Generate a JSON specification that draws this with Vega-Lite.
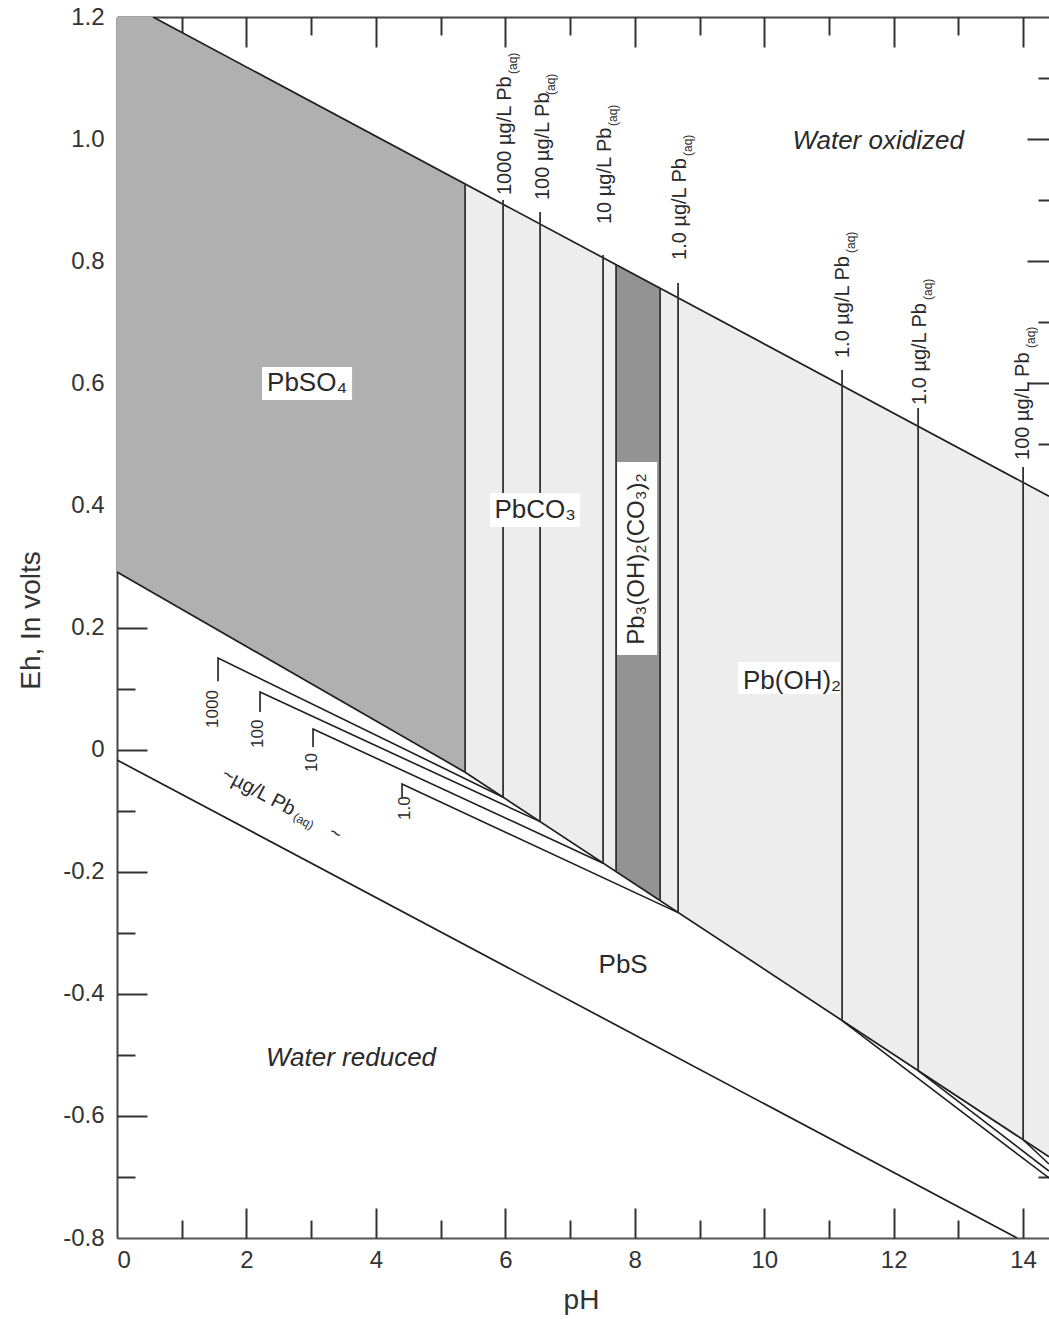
{
  "$schema": "https://vega.github.io/schema/vega-lite/v6.json",
  "width": 932,
  "height": 1221,
  "autosize": {"type": "none"},
  "padding": {"left": 117, "top": 17, "right": 0, "bottom": 81},
  "background": "white",
  "config": {"view": {"stroke": null}},
  "datasets": {
    "so4": [
      {"ph": 0, "top": 1.2, "bottom": 0.291},
      {"ph": 0.556, "top": 1.2, "bottom": 0.2571},
      {"ph": 5.378, "top": 0.9266, "bottom": -0.037}
    ],
    "light": [
      {"ph": 5.378, "top": 0.9266, "bottom": -0.037},
      {"ph": 14.4, "top": 0.415, "bottom": -0.667}
    ],
    "dark": [
      {"ph": 7.711, "top": 0.7943, "bottom": -0.2},
      {"ph": 8.391, "top": 0.7557, "bottom": -0.247}
    ],
    "bounds": [
      {"id": "ox", "seq": 1, "ph": 0.556, "eh": 1.2},
      {"id": "ox", "seq": 2, "ph": 14.4, "eh": 0.415},
      {"id": "red", "seq": 1, "ph": 0, "eh": -0.017},
      {"id": "red", "seq": 2, "ph": 13.907, "eh": -0.8},
      {"id": "so4", "seq": 1, "ph": 0, "eh": 0.291},
      {"id": "so4", "seq": 2, "ph": 5.378, "eh": -0.037},
      {"id": "pbs", "seq": 1, "ph": 5.378, "eh": -0.037},
      {"id": "pbs", "seq": 2, "ph": 14.4, "eh": -0.667}
    ],
    "verticals": [
      {"ph": 5.378, "top": 0.9266, "bottom": -0.037},
      {"ph": 5.965, "top": 0.9002, "bottom": -0.078},
      {"ph": 6.537, "top": 0.8806, "bottom": -0.118},
      {"ph": 7.51, "top": 0.8102, "bottom": -0.186},
      {"ph": 7.711, "top": 0.7943, "bottom": -0.2},
      {"ph": 8.391, "top": 0.7557, "bottom": -0.247},
      {"ph": 8.669, "top": 0.7643, "bottom": -0.267},
      {"ph": 11.203, "top": 0.6218, "bottom": -0.444},
      {"ph": 12.378, "top": 0.5595, "bottom": -0.526},
      {"ph": 14.0, "top": 0.463, "bottom": -0.639}
    ],
    "conc": [
      {"id": "c1000", "seq": 1, "ph": 1.561, "eh": 0.112},
      {"id": "c1000", "seq": 2, "ph": 1.561, "eh": 0.15},
      {"id": "c1000", "seq": 3, "ph": 5.965, "eh": -0.078},
      {"id": "c100", "seq": 1, "ph": 2.21, "eh": 0.0616},
      {"id": "c100", "seq": 2, "ph": 2.21, "eh": 0.0943},
      {"id": "c100", "seq": 3, "ph": 6.537, "eh": -0.118},
      {"id": "c10", "seq": 1, "ph": 3.029, "eh": 0.0043},
      {"id": "c10", "seq": 2, "ph": 3.029, "eh": 0.0337},
      {"id": "c10", "seq": 3, "ph": 7.51, "eh": -0.186},
      {"id": "c1", "seq": 1, "ph": 4.404, "eh": -0.0776},
      {"id": "c1", "seq": 2, "ph": 4.404, "eh": -0.0563},
      {"id": "c1", "seq": 3, "ph": 8.669, "eh": -0.267},
      {"id": "r1", "seq": 1, "ph": 11.203, "eh": -0.444},
      {"id": "r1", "seq": 2, "ph": 14.4, "eh": -0.7017},
      {"id": "r2", "seq": 1, "ph": 12.378, "eh": -0.526},
      {"id": "r2", "seq": 2, "ph": 14.4, "eh": -0.6903},
      {"id": "r3", "seq": 1, "ph": 14.0, "eh": -0.639},
      {"id": "r3", "seq": 2, "ph": 14.4, "eh": -0.6788}
    ],
    "boxes": [
      {"x1": 2.241, "x2": 3.632, "y1": 0.6267, "y2": 0.5727},
      {"x1": 5.764, "x2": 7.155, "y1": 0.4203, "y2": 0.3646},
      {"x1": 7.727, "x2": 8.345, "y1": 0.4711, "y2": 0.155},
      {"x1": 9.597, "x2": 11.17, "y1": 0.1435, "y2": 0.0909}
    ],
    "names": [
      {"ph": 2.936, "eh": 0.6005, "t": "PbSO₄"},
      {"ph": 6.46, "eh": 0.3925, "t": "PbCO₃"},
      {"ph": 10.43, "eh": 0.1124, "t": "Pb(OH)₂"},
      {"ph": 7.82, "eh": -0.3528, "t": "PbS"}
    ],
    "water": [
      {"ph": 11.76, "eh": 0.997, "t": "Water oxidized"},
      {"ph": 3.616, "eh": -0.5052, "t": "Water reduced"}
    ],
    "rotname": [
      {"ph": 8.036, "eh": 0.3122, "t": "Pb₃(OH)₂(CO₃)₂"}
    ],
    "conclabels": [
      {"ph": 5.996, "eh": 0.9084, "t": "1000 µg/L Pb"},
      {"ph": 6.583, "eh": 0.9002, "t": "100 µg/L Pb"},
      {"ph": 7.541, "eh": 0.8609, "t": "10 µg/L Pb"},
      {"ph": 8.7, "eh": 0.802, "t": "1.0 µg/L Pb"},
      {"ph": 11.219, "eh": 0.6414, "t": "1.0 µg/L Pb"},
      {"ph": 12.409, "eh": 0.5645, "t": "1.0 µg/L Pb"},
      {"ph": 14.0, "eh": 0.4744, "t": "100 µg/L Pb"}
    ],
    "aq": [
      {"ph": 6.12, "eh": 1.1066, "t": "(aq)"},
      {"ph": 6.707, "eh": 1.0722, "t": "(aq)"},
      {"ph": 7.665, "eh": 1.0215, "t": "(aq)"},
      {"ph": 8.824, "eh": 0.9723, "t": "(aq)"},
      {"ph": 11.343, "eh": 0.8134, "t": "(aq)"},
      {"ph": 12.533, "eh": 0.7364, "t": "(aq)"},
      {"ph": 14.124, "eh": 0.6578, "t": "(aq)"}
    ],
    "hooklabels": [
      {"ph": 1.484, "eh": 0.0354, "t": "1000"},
      {"ph": 2.179, "eh": 0.0026, "t": "100"},
      {"ph": 3.013, "eh": -0.0367, "t": "10"},
      {"ph": 4.45, "eh": -0.1153, "t": "1.0"}
    ],
    "slant": [
      {"ph": 1.638, "eh": -0.0383, "t": "~µg/L Pb"},
      {"ph": 3.291, "eh": -0.1333, "t": "~"}
    ],
    "slantsub": [
      {"ph": 2.735, "eh": -0.1088, "t": "(aq)"}
    ]
  },
  "resolve": {"axis": {"x": "independent", "y": "independent"}},
  "layer": [
    {
      "data": {"name": "so4"},
      "mark": {"type": "area", "color": "#b0b0b0", "clip": true},
      "encoding": {
        "x": {"field": "ph", "type": "quantitative", "scale": {"domain": [0, 14.4], "nice": false, "zero": false},
          "axis": {"orient": "bottom", "values": [0, 2, 4, 6, 8, 10, 12, 14], "ticks": false, "domain": true, "domainColor": "#555", "domainWidth": 2, "grid": false,
            "labelFont": "Liberation Sans", "labelFontSize": 24, "labelColor": "#333", "labelPadding": 10,
            "title": "pH", "titleFont": "Liberation Sans", "titleFontSize": 28, "titleFontWeight": "normal", "titleColor": "#333",
            "titleX": 464, "titleY": 62, "titleBaseline": "middle", "titleAlign": "center"}},
        "y": {"field": "top", "type": "quantitative", "scale": {"domain": [-0.8, 1.2], "nice": false, "zero": false},
          "axis": {"orient": "left", "values": [-0.8, -0.6, -0.4, -0.2, 0, 0.2, 0.4, 0.6, 0.8, 1.0, 1.2], "ticks": false, "domain": true, "domainColor": "#444", "domainWidth": 2, "grid": false,
            "labelExpr": "datum.value == 0 ? '0' : replace(format(datum.value, '.1f'), '−', '-')",
            "labelFont": "Liberation Sans", "labelFontSize": 24, "labelColor": "#333", "labelPadding": 13,
            "title": "Eh, In volts", "titleFont": "Liberation Sans", "titleFontSize": 28, "titleFontWeight": "normal", "titleColor": "#333",
            "titleX": -86, "titleY": 603, "titleAngle": 270, "titleBaseline": "middle", "titleAlign": "center"}},
        "y2": {"field": "bottom"}
      }
    },
    {
      "data": {"name": "light"},
      "mark": {"type": "area", "color": "#ededed", "clip": true},
      "encoding": {
        "x": {"field": "ph", "type": "quantitative", "scale": {"domain": [0, 14.4], "nice": false, "zero": false},
          "axis": {"orient": "bottom", "values": [2, 4, 6, 8, 10, 12, 14], "labels": false, "domain": false, "grid": false, "ticks": true, "tickSize": 30, "offset": -30, "tickColor": "#333", "tickWidth": 2, "title": null}},
        "y": {"field": "top", "type": "quantitative", "scale": {"domain": [-0.8, 1.2], "nice": false, "zero": false},
          "axis": {"orient": "left", "values": [-0.6, -0.4, -0.2, 0, 0.2, 0.4, 0.6, 0.8, 1.0], "labels": false, "domain": false, "grid": false, "ticks": true, "tickSize": 30, "offset": -30, "tickColor": "#333", "tickWidth": 2, "title": null}},
        "y2": {"field": "bottom"}
      }
    },
    {
      "data": {"name": "dark"},
      "mark": {"type": "area", "color": "#939393", "clip": true},
      "encoding": {
        "x": {"field": "ph", "type": "quantitative", "scale": {"domain": [0, 14.4], "nice": false, "zero": false},
          "axis": {"orient": "bottom", "values": [1, 3, 5, 7, 9, 11, 13], "labels": false, "domain": false, "grid": false, "ticks": true, "tickSize": 18, "offset": -18, "tickColor": "#333", "tickWidth": 2, "title": null}},
        "y": {"field": "top", "type": "quantitative", "scale": {"domain": [-0.8, 1.2], "nice": false, "zero": false},
          "axis": {"orient": "left", "values": [-0.7, -0.5, -0.3, -0.1, 0.1, 0.3, 0.5, 0.7, 0.9, 1.1], "labels": false, "domain": false, "grid": false, "ticks": true, "tickSize": 18, "offset": -18, "tickColor": "#333", "tickWidth": 2, "title": null}},
        "y2": {"field": "bottom"}
      }
    },
    {
      "data": {"name": "bounds"},
      "mark": {"type": "line", "color": "#1e1e1e", "strokeWidth": 1.7, "clip": true},
      "encoding": {
        "x": {"field": "ph", "type": "quantitative", "scale": {"domain": [0, 14.4], "nice": false, "zero": false},
          "axis": {"orient": "top", "values": [0, 14], "labels": false, "ticks": false, "domain": true, "domainColor": "#444", "domainWidth": 2, "grid": false, "title": null}},
        "y": {"field": "eh", "type": "quantitative", "scale": {"domain": [-0.8, 1.2], "nice": false, "zero": false},
          "axis": {"orient": "right", "values": [-0.6, -0.4, -0.2, 0, 0.2, 0.4, 0.6, 0.8, 1.0], "labels": false, "domain": false, "grid": false, "ticks": true, "tickSize": 22, "offset": -22, "tickColor": "#333", "tickWidth": 2, "title": null}},
        "detail": {"field": "id"},
        "order": {"field": "seq"}
      }
    },
    {
      "data": {"name": "verticals"},
      "mark": {"type": "rule", "color": "#333333", "strokeWidth": 1.8, "clip": true},
      "encoding": {
        "x": {"field": "ph", "type": "quantitative", "scale": {"domain": [0, 14.4], "nice": false, "zero": false},
          "axis": {"orient": "top", "values": [2, 4, 6, 8, 10, 12, 14], "labels": false, "domain": false, "grid": false, "ticks": true, "tickSize": 30, "offset": -30, "tickColor": "#333", "tickWidth": 2, "title": null}},
        "y": {"field": "top", "type": "quantitative", "scale": {"domain": [-0.8, 1.2], "nice": false, "zero": false},
          "axis": {"orient": "right", "values": [-0.7, -0.5, -0.3, -0.1, 0.1, 0.3, 0.5, 0.7, 0.9, 1.1], "labels": false, "domain": false, "grid": false, "ticks": true, "tickSize": 11, "offset": -11, "tickColor": "#333", "tickWidth": 2, "title": null}},
        "y2": {"field": "bottom"}
      }
    },
    {
      "data": {"name": "conc"},
      "mark": {"type": "line", "color": "#1e1e1e", "strokeWidth": 1.6, "clip": true},
      "encoding": {
        "x": {"field": "ph", "type": "quantitative", "scale": {"domain": [0, 14.4], "nice": false, "zero": false},
          "axis": {"orient": "top", "values": [1, 3, 5, 7, 9, 11, 13], "labels": false, "domain": false, "grid": false, "ticks": true, "tickSize": 18, "offset": -18, "tickColor": "#333", "tickWidth": 2, "title": null}},
        "y": {"field": "eh", "type": "quantitative", "scale": {"domain": [-0.8, 1.2], "nice": false, "zero": false}, "axis": null},
        "detail": {"field": "id"},
        "order": {"field": "seq"}
      }
    },
    {
      "data": {"name": "boxes"},
      "mark": {"type": "rect", "color": "white", "opacity": 1},
      "encoding": {
        "x": {"field": "x1", "type": "quantitative", "scale": {"domain": [0, 14.4], "nice": false, "zero": false}, "axis": null},
        "x2": {"field": "x2"},
        "y": {"field": "y1", "type": "quantitative", "scale": {"domain": [-0.8, 1.2], "nice": false, "zero": false}, "axis": null},
        "y2": {"field": "y2"}
      }
    },
    {
      "data": {"name": "names"},
      "mark": {"type": "text", "font": "Liberation Sans", "fontSize": 26, "color": "#2a2a2a", "align": "center", "baseline": "middle"},
      "encoding": {
        "x": {"field": "ph", "type": "quantitative", "scale": {"domain": [0, 14.4], "nice": false, "zero": false}, "axis": null},
        "y": {"field": "eh", "type": "quantitative", "scale": {"domain": [-0.8, 1.2], "nice": false, "zero": false}, "axis": null},
        "text": {"field": "t"}
      }
    },
    {
      "data": {"name": "water"},
      "mark": {"type": "text", "font": "Liberation Sans", "fontSize": 26, "fontStyle": "italic", "color": "#2a2a2a", "align": "center", "baseline": "middle"},
      "encoding": {
        "x": {"field": "ph", "type": "quantitative", "scale": {"domain": [0, 14.4], "nice": false, "zero": false}, "axis": null},
        "y": {"field": "eh", "type": "quantitative", "scale": {"domain": [-0.8, 1.2], "nice": false, "zero": false}, "axis": null},
        "text": {"field": "t"}
      }
    },
    {
      "data": {"name": "rotname"},
      "mark": {"type": "text", "font": "Liberation Sans", "fontSize": 24, "color": "#2a2a2a", "align": "center", "baseline": "middle", "angle": 270},
      "encoding": {
        "x": {"field": "ph", "type": "quantitative", "scale": {"domain": [0, 14.4], "nice": false, "zero": false}, "axis": null},
        "y": {"field": "eh", "type": "quantitative", "scale": {"domain": [-0.8, 1.2], "nice": false, "zero": false}, "axis": null},
        "text": {"field": "t"}
      }
    },
    {
      "data": {"name": "conclabels"},
      "mark": {"type": "text", "font": "Liberation Sans", "fontSize": 20, "color": "#2a2a2a", "align": "left", "baseline": "middle", "angle": 270},
      "encoding": {
        "x": {"field": "ph", "type": "quantitative", "scale": {"domain": [0, 14.4], "nice": false, "zero": false}, "axis": null},
        "y": {"field": "eh", "type": "quantitative", "scale": {"domain": [-0.8, 1.2], "nice": false, "zero": false}, "axis": null},
        "text": {"field": "t"}
      }
    },
    {
      "data": {"name": "aq"},
      "mark": {"type": "text", "font": "Liberation Sans", "fontSize": 12, "color": "#2a2a2a", "align": "left", "baseline": "middle", "angle": 270},
      "encoding": {
        "x": {"field": "ph", "type": "quantitative", "scale": {"domain": [0, 14.4], "nice": false, "zero": false}, "axis": null},
        "y": {"field": "eh", "type": "quantitative", "scale": {"domain": [-0.8, 1.2], "nice": false, "zero": false}, "axis": null},
        "text": {"field": "t"}
      }
    },
    {
      "data": {"name": "hooklabels"},
      "mark": {"type": "text", "font": "Liberation Sans", "fontSize": 17, "color": "#2a2a2a", "align": "left", "baseline": "middle", "angle": 270},
      "encoding": {
        "x": {"field": "ph", "type": "quantitative", "scale": {"domain": [0, 14.4], "nice": false, "zero": false}, "axis": null},
        "y": {"field": "eh", "type": "quantitative", "scale": {"domain": [-0.8, 1.2], "nice": false, "zero": false}, "axis": null},
        "text": {"field": "t"}
      }
    },
    {
      "data": {"name": "slant"},
      "mark": {"type": "text", "font": "Liberation Sans", "fontSize": 20, "color": "#2a2a2a", "align": "left", "baseline": "middle", "angle": 28},
      "encoding": {
        "x": {"field": "ph", "type": "quantitative", "scale": {"domain": [0, 14.4], "nice": false, "zero": false}, "axis": null},
        "y": {"field": "eh", "type": "quantitative", "scale": {"domain": [-0.8, 1.2], "nice": false, "zero": false}, "axis": null},
        "text": {"field": "t"}
      }
    },
    {
      "data": {"name": "slantsub"},
      "mark": {"type": "text", "font": "Liberation Sans", "fontSize": 12, "color": "#2a2a2a", "align": "left", "baseline": "middle", "angle": 28},
      "encoding": {
        "x": {"field": "ph", "type": "quantitative", "scale": {"domain": [0, 14.4], "nice": false, "zero": false}, "axis": null},
        "y": {"field": "eh", "type": "quantitative", "scale": {"domain": [-0.8, 1.2], "nice": false, "zero": false}, "axis": null},
        "text": {"field": "t"}
      }
    }
  ]
}
